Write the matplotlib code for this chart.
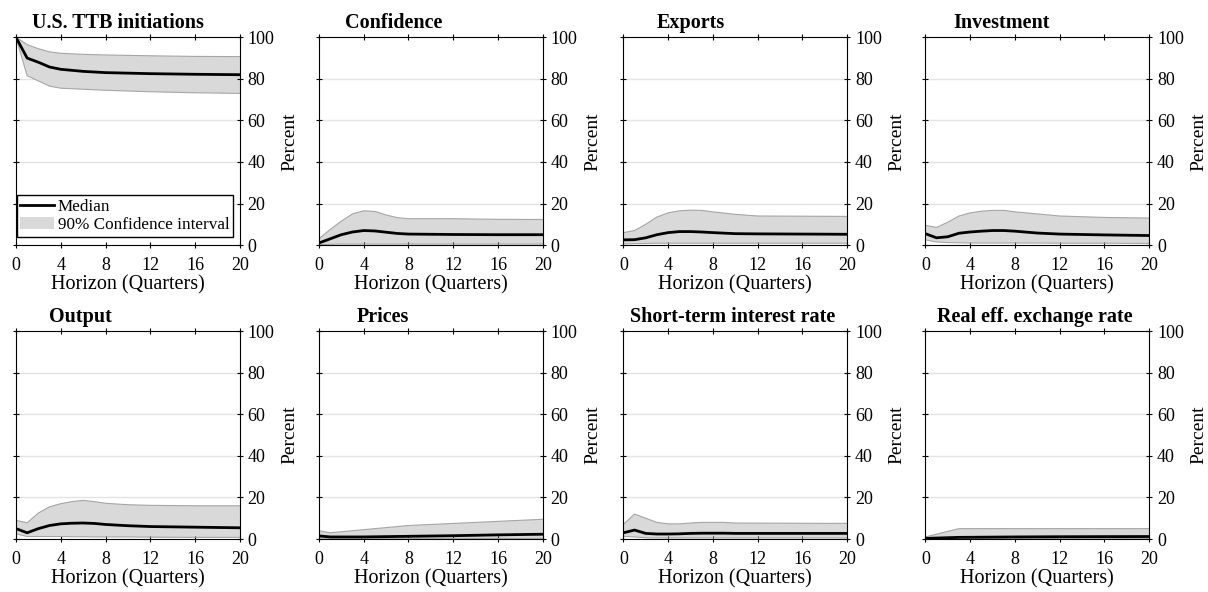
import matplotlib
matplotlib.use("Agg")
import matplotlib.pyplot as plt
import numpy as np

plt.rcParams['font.family'] = ['Liberation Serif', 'DejaVu Serif']
plt.rcParams['font.size'] = 12

titles = ['U.S. TTB initiations', 'Confidence', 'Exports', 'Investment',
          'Output', 'Prices', 'Short-term interest rate', 'Real eff. exchange rate']

h_ttb = [0, 1, 2, 3, 4, 6, 8, 12, 16, 20]
med_ttb = [100, 90, 88, 85.7, 84.6, 83.6, 83.0, 82.5, 82.2, 82.0]
up_ttb = [100, 96.5, 94.5, 93, 92.3, 91.8, 91.5, 91.1, 90.8, 90.7]
lo_ttb = [100, 81.5, 79, 76.5, 75.5, 75, 74.5, 73.8, 73.3, 73.0]

h_conf = [0, 1, 2, 3, 4, 5, 6, 7, 8, 12, 16, 20]
med_conf = [1, 3, 5, 6.3, 7, 6.8, 6.2, 5.6, 5.3, 5.1, 5.0, 5.0]
up_conf = [3, 7.5, 11.5, 15, 16.5, 16.2, 14.5, 13.2, 12.7, 12.7, 12.4, 12.3]
lo_conf = [0.2, 0.4, 0.5, 0.5, 0.5, 0.5, 0.5, 0.5, 0.5, 0.5, 0.5, 0.5]

h_exp = [0, 1, 2, 3, 4, 5, 6, 7, 8, 10, 12, 16, 20]
med_exp = [2.5, 2.6, 3.5, 5, 6, 6.5, 6.5, 6.3, 6, 5.5, 5.4, 5.3, 5.2]
up_exp = [6, 7, 10, 13.5, 15.5, 16.5, 16.8, 16.7, 16, 14.8, 14, 13.9, 13.8]
lo_exp = [0.6, 0.7, 0.8, 0.9, 0.9, 0.9, 0.9, 0.9, 0.9, 0.9, 0.9, 0.9, 0.9]

h_inv = [0, 1, 2, 3, 4, 5, 6, 7, 8, 10, 12, 16, 20]
med_inv = [5.5, 3.5, 4, 5.7, 6.3, 6.7, 7, 7, 6.7, 5.8, 5.3, 4.9, 4.6]
up_inv = [9.5, 8.5, 11, 14, 15.5, 16.3, 16.7, 16.7, 16, 15, 14, 13.3, 13]
lo_inv = [2.5, 1.5, 1.2, 1.1, 1, 1, 1, 1, 1, 1, 0.9, 0.9, 0.8]

h_out = [0, 1, 2, 3, 4, 5, 6, 7, 8, 10, 12, 16, 20]
med_out = [5, 3, 5, 6.5, 7.3, 7.6, 7.7, 7.5, 7, 6.4, 6, 5.7, 5.4]
up_out = [9, 7.8, 12.5, 15.5, 17, 18, 18.6, 18, 17.2, 16.5, 16.2, 16, 16]
lo_out = [2.5, 1.2, 1.2, 1.2, 1.2, 1.1, 1.1, 1, 1, 1, 0.9, 0.8, 0.8]

h_pri = [0, 1, 4, 8, 12, 16, 20]
med_pri = [1.5, 1, 1, 1.3, 1.6, 2, 2.3]
up_pri = [4, 3, 4.5, 6.5, 7.5, 8.5, 9.5]
lo_pri = [0.4, 0.3, 0.3, 0.3, 0.3, 0.3, 0.3]

h_str = [0, 1, 2, 3, 4, 5, 6, 7, 8, 9, 10, 20]
med_str = [3, 4.3, 2.7, 2.4, 2.4, 2.5, 2.7, 2.8, 2.8, 2.8, 2.7, 2.7]
up_str = [7, 12, 10, 8, 7.3, 7.3, 7.7, 8, 8, 8, 7.7, 7.5]
lo_str = [1.3, 1, 0.6, 0.5, 0.5, 0.5, 0.5, 0.5, 0.5, 0.5, 0.5, 0.5]

h_reer = [0, 3, 8, 12, 20]
med_reer = [0.3, 0.8, 1.0, 1.1, 1.2]
up_reer = [1, 5, 5, 5, 5]
lo_reer = [0.1, 0.2, 0.2, 0.2, 0.2]

horizons = [h_ttb, h_conf, h_exp, h_inv, h_out, h_pri, h_str, h_reer]
medians = [med_ttb, med_conf, med_exp, med_inv, med_out, med_pri, med_str, med_reer]
uppers = [up_ttb, up_conf, up_exp, up_inv, up_out, up_pri, up_str, up_reer]
lowers = [lo_ttb, lo_conf, lo_exp, lo_inv, lo_out, lo_pri, lo_str, lo_reer]

# where the titles sit over each panel (axes fraction)
title_x = [0.455, 0.335, 0.30, 0.34, 0.29, 0.285, 0.49, 0.487]

fig = plt.figure(figsize=(12.08, 5.92), dpi=100)
lefts = [0.0132, 0.264, 0.516, 0.766]
bottoms = [0.586, 0.0895]
w, hgt = 0.1854, 0.351

for i in range(8):
    r, c = divmod(i, 4)
    ax = fig.add_axes([lefts[c], bottoms[r], w, hgt])
    for yy in [20, 40, 60, 80]:
        ax.axhline(yy, color='#e3e3e3', lw=1, zorder=0)
    ax.fill_between(horizons[i], lowers[i], uppers[i], facecolor='#d9d9d9',
                    edgecolor='none', zorder=1, label='90% Confidence interval')
    ax.plot(horizons[i], uppers[i], color='#a6a6a6', lw=0.8, zorder=2)
    ax.plot(horizons[i], lowers[i], color='#a6a6a6', lw=0.8, zorder=2)
    ax.plot(horizons[i], medians[i], color='black', lw=2, zorder=3, label='Median')
    ax.set_xlim(0, 20)
    ax.set_ylim(0, 100)
    ax.set_xticks([0, 4, 8, 12, 16, 20])
    ax.set_yticks([0, 20, 40, 60, 80, 100])
    ax.yaxis.tick_right()
    ax.yaxis.set_label_position('right')
    ax.tick_params(direction='inout', length=5, width=0.8, top=True, left=True,
                   right=True, labelsize=13)
    ax.tick_params(axis='x', pad=6)
    ax.tick_params(axis='y', pad=3)
    ax.set_ylabel('Percent', fontsize=14, labelpad=5)
    ax.set_xlabel('Horizon (Quarters)', fontsize=14.5, labelpad=1)
    for s in ax.spines.values():
        s.set_linewidth(0.8)
    ax.text(title_x[i], 1.02, titles[i], transform=ax.transAxes, ha='center',
            va='bottom', fontweight='bold', fontsize=14.5)
    if i == 0:
        hnd, lab = ax.get_legend_handles_labels()
        ax.legend([hnd[1], hnd[0]], [lab[1], lab[0]], loc='lower left',
                  bbox_to_anchor=(0.004, 0.04), borderaxespad=0, fancybox=False,
                  edgecolor='black', framealpha=1, handlelength=2.0,
                  handletextpad=0.2, borderpad=0.2, labelspacing=0.15,
                  fontsize=12.3)

fig.savefig('out.png', dpi=100)
